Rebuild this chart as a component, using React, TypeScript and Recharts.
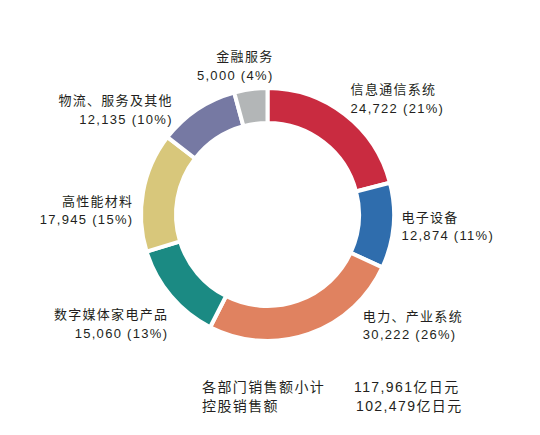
import React from "react";
import { PieChart, Pie, Cell } from "recharts";

const categories = [
  "信息通信系统",
  "电子设备",
  "电力、产业系统",
  "数字媒体家电产品",
  "高性能材料",
  "物流、服务及其他",
  "金融服务",
];
const sales = [24722, 12874, 30222, 15060, 17945, 12135, 5000];
const colors = ["#C92B40", "#2F6DAD", "#E08260", "#1B8A83", "#D8C77B", "#7679A3", "#B3B6B7"];

const summaryLabels = ["各部门销售额小计", "控股销售额"];
const summaryValues = ["117,961亿日元", "102,479亿日元"];

// label nudges relative to a radial anchor (layout only)
const labelNudge: [number, number][] = [
  [-9, -1],
  [-16, -6],
  [46, -36],
  [16, 8],
  [14, 18],
  [-11, 16],
  [26, -4],
];

const data = categories.map((name, i) => ({ name, value: sales[i] }));

const FONT = '"Liberation Sans", "Noto Sans CJK SC", sans-serif';
const TEXT = "#231F20";
const RAD = Math.PI / 180;

const renderLabel = (props: any) => {
  const { cx, cy, midAngle, outerRadius, index, value, percent } = props;
  const r = outerRadius + 24;
  const x0 = cx + r * Math.cos(-midAngle * RAD);
  const y0 = cy + r * Math.sin(-midAngle * RAD);
  const [dx, dy] = labelNudge[index];
  const x = x0 + dx;
  const y = y0 + dy;
  const anchor = Math.cos(-midAngle * RAD) >= 0 ? "start" : "end";
  return (
    <text
      x={x}
      y={y}
      textAnchor={anchor}
      fontFamily={FONT}
      fontSize={13}
      fill={TEXT}
      letterSpacing={1.3}
    >
      <tspan x={x} y={y}>{categories[index]}</tspan>
      <tspan x={x} y={y + 18.5}>
        {`${Number(value).toLocaleString("en-US")} (${Math.round(percent * 100)}%)`}
      </tspan>
    </text>
  );
};

export default function App() {
  return (
    <div style={{ position: "absolute", left: 0, top: 0, width: 540, height: 435, background: "#fff" }}>
      <PieChart width={540} height={435} margin={{ top: 0, right: 0, bottom: 0, left: 0 }}>
        <Pie
          data={data}
          dataKey="value"
          nameKey="name"
          cx={267.5}
          cy={214.5}
          innerRadius={91.5}
          outerRadius={126.5}
          startAngle={90}
          endAngle={-270}
          stroke="#fff"
          strokeWidth={4}
          label={renderLabel}
          labelLine={false}
          isAnimationActive={false}
        >
          {data.map((d, i) => (
            <Cell key={d.name} fill={colors[i]} />
          ))}
        </Pie>
      </PieChart>
      <svg
        width={540}
        height={435}
        style={{ position: "absolute", left: 0, top: 0, pointerEvents: "none" }}
      >
        {summaryLabels.map((lab, i) => (
          <g key={lab} fontFamily={FONT} fontSize={14} fill={TEXT} letterSpacing={1.4}>
            <text x={202} y={392 + i * 18.5}>{lab}</text>
            <text x={i === 0 ? 354 : 356} y={392 + i * 18.5}>{summaryValues[i]}</text>
          </g>
        ))}
      </svg>
    </div>
  );
}
